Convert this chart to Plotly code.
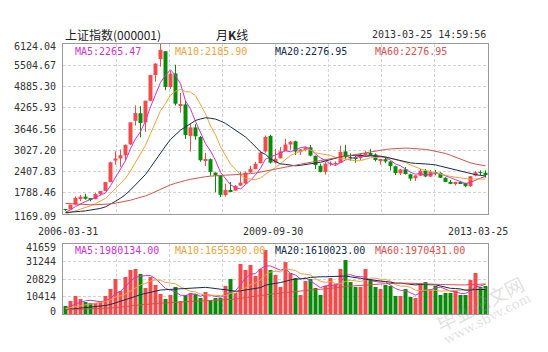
import numpy as np
import pandas as pd
import plotly.graph_objects as go

# ---------------- data ----------------
# monthly candles 2006-03 .. 2013-03 (Shanghai Composite)
open_ = [1299, 1300, 1445, 1635, 1676, 1612, 1602, 1754, 1840, 2101,
         2728, 2787, 2882, 3196, 3884, 4106, 3841, 4468, 5219, 5683, 5914, 4868,
         5265, 4320, 4364, 3446, 3693, 3415, 2742, 2767, 2376, 2294, 1719, 1870,
         1850, 1998, 2058, 2381, 2476, 2652, 2990, 3446, 2670, 2791, 3005, 3193,
         3289, 2983, 3057, 3112, 2866, 2577, 2395, 2628, 2631, 2661, 2993, 2818,
         2825, 2795, 2904, 2935, 2904, 2740, 2767, 2699, 2561, 2355, 2473, 2327,
         2212, 2285, 2430, 2259, 2391, 2370, 2226, 2106, 2049, 2074, 2073, 1979,
         2289, 2382, 2371]
high = [1307, 1445, 1680, 1725, 1757, 1627, 1785, 1843, 2099, 2698,
        2994, 3049, 3197, 3841, 4335, 4312, 4471, 5219, 5562, 6124, 5914, 5335,
        5522, 4695, 4472, 3786, 3786, 3442, 2952, 2790, 2380, 2296, 2050, 2100,
        2012, 2402, 2403, 2579, 2688, 2993, 3454, 3478, 3068, 3123, 3361, 3298,
        3306, 3060, 3129, 3181, 2869, 2634, 2680, 2706, 2702, 3159, 3186, 2939,
        2868, 2943, 3000, 3067, 2935, 2775, 2826, 2709, 2575, 2480, 2536, 2342,
        2301, 2478, 2478, 2454, 2453, 2384, 2240, 2160, 2109, 2135, 2084, 2276,
        2414, 2444, 2440]
low = [1258, 1295, 1421, 1541, 1586, 1541, 1596, 1720, 1830, 2091,
       2605, 2541, 2723, 3175, 3747, 3404, 3563, 4463, 5029, 5462, 4778, 4812,
       4330, 4123, 3357, 2990, 3333, 2693, 2566, 2284, 1802, 1664, 1678, 1814,
       1845, 1990, 2037, 2362, 2473, 2640, 2955, 2639, 2639, 2789, 3000, 3039,
       2890, 2890, 2995, 2852, 2481, 2382, 2319, 2571, 2573, 2661, 2774, 2721,
       2661, 2743, 2867, 2868, 2700, 2610, 2652, 2437, 2307, 2307, 2319, 2134,
       2132, 2276, 2242, 2244, 2297, 2224, 2100, 2043, 1999, 2043, 1949, 1959,
       2264, 2297, 2229]
close = [1298.3, 1440.2, 1641.3, 1672.2, 1612.7, 1601.1, 1752.4, 1837.9, 2099.3, 2675.5,
         2786.3, 2881.1, 3183.9, 3841.3, 4109.7, 3820.7, 4471.0, 5218.8, 5552.3, 5954.8, 4871.8, 5261.6,
         4383.4, 4348.5, 3472.7, 3693.1, 3433.4, 2736.1, 2775.7, 2397.4, 2293.8, 1728.8, 1871.2, 1820.8,
         1991.0, 2082.9, 2373.2, 2477.6, 2632.9, 2959.4, 3412.1, 2667.7, 2779.4, 2995.8, 3195.3, 3277.1,
         2989.3, 3051.9, 3109.1, 2870.6, 2592.1, 2398.4, 2637.5, 2638.8, 2655.7, 2978.8, 2820.2, 2808.1,
         2790.7, 2905.1, 2928.1, 2911.5, 2743.5, 2762.1, 2701.7, 2567.3, 2359.2, 2468.3, 2333.4, 2199.4,
         2292.6, 2428.5, 2262.8, 2396.3, 2372.2, 2225.4, 2103.6, 2047.5, 2086.2, 2068.9, 1980.1, 2269.1,
         2385.4, 2365.6, 2328.0]
volume = [4800, 7700, 10700, 8900, 7100, 6500, 6500, 7700, 10700, 14900,
          20800, 13700, 22000, 26200, 26800, 23800, 15500, 22000, 17300, 11900, 8900, 11300,
          16100, 7700, 11300, 12500, 11900, 9500, 13100, 8300, 9500, 9500, 16700, 20800,
          12500, 29800, 26200, 29200, 22600, 26800, 38100, 26200, 23200, 16100, 30900, 24400,
          21400, 11300, 19600, 20800, 15500, 11300, 16700, 21400, 17900, 26800, 32100, 19000,
          16100, 16100, 26800, 20800, 16100, 14900, 17300, 16700, 10700, 10700, 14900, 10100,
          9500, 17900, 19000, 14900, 16700, 11300, 12500, 12500, 13700, 11300, 11300, 20200,
          24400, 16100, 16700]
# earlier months (2001-04 .. 2006-02), only used to start the moving averages
hist_close = [2119, 2214, 2218, 1920, 1834, 1690, 1689, 1747, 1646,
              1491, 1524, 1603, 1661, 1516, 1732, 1666, 1670, 1581, 1507, 1441, 1357,
              1500, 1511, 1510, 1521, 1576, 1487, 1476, 1421, 1367, 1348, 1397, 1497,
              1590, 1675, 1741, 1595, 1555, 1399, 1386, 1342, 1396, 1320, 1340, 1266,
              1191, 1306, 1181, 1159, 1060, 1080, 1083, 1162, 1155, 1092, 1099, 1161,
              1258, 1299]
hist_volume = [3600, 3200, 3300, 2600, 2100, 1700, 2200, 2600, 1600,
               1700, 1200, 2600, 3200, 2100, 4600, 2700, 2300, 1500, 1400, 1600, 1500,
               2600, 1700, 2100, 3200, 3500, 2000, 2100, 1800, 1600, 1800, 2200, 2600,
               3600, 5200, 6200, 4600, 2300, 2000, 1800, 1600, 2800, 1900, 2500, 1600,
               1700, 2000, 2200, 2100, 1800, 3200, 2400, 3700, 2900, 2100, 2500, 2900,
               3300, 3600]

price_ticks = [1169.09, 1788.46, 2407.83, 3027.20, 3646.56, 4265.93, 4885.30, 5504.67, 6124.04]
vol_ticks = [0, 10414, 20829, 31244, 41659]
date_labels = ["2006-03-31", "2009-09-30", "2013-03-25"]
date_pos = [0, 42, 84]
price_ma_text = ["MA5:2265.47", "MA10:2185.90", "MA20:2276.95", "MA60:2276.95"]
vol_ma_text = ["MA5:1980134.00", "MA10:1655390.00", "MA20:1610023.00", "MA60:1970431.00"]
ma_periods = [5, 10, 20, 60]

# ---------------- style ----------------
W, H = 548, 352
X0, X1 = 63, 488
P_TOP, P_BOT = 44, 214
V_TOP, V_BOT = 244, 314
RED = "#f04c4c"
GREEN = "#0a8a0a"
MA_COLORS = ["#cc33cc", "#eaa43a", "#132c4c", "#d85050"]
MONO = "DejaVu Sans Mono"
CJK = "Noto Sans CJK SC"
TXT = "#333333"

n = len(close)
idx = list(range(n))
o = np.array(open_, float); c = np.array(close, float)
hi = np.array(high, float); lo = np.array(low, float)
up = c >= o

def px(xp):
    return xp / W

def py(yp):
    return 1 - yp / H

fig = go.Figure()

# candle bodies and wicks
for mask, col in [(up, RED), (~up, GREEN)]:
    ii = [i for i in idx if mask[i]]
    fig.add_trace(go.Bar(x=ii, y=[abs(c[i] - o[i]) for i in ii],
                         base=[min(c[i], o[i]) for i in ii], width=0.8,
                         marker=dict(color=col, line=dict(width=0)),
                         xaxis="x", yaxis="y", hoverinfo="skip"))
    wx, wy = [], []
    for i in ii:
        wx += [i, i, None]
        wy += [lo[i], hi[i], None]
    fig.add_trace(go.Scatter(x=wx, y=wy, mode="lines", line=dict(color=col, width=1),
                             xaxis="x", yaxis="y", hoverinfo="skip"))

# price MAs
all_close = pd.Series(hist_close + close)
all_vol = pd.Series(hist_volume + volume)
for p, col in zip(ma_periods, MA_COLORS):
    ma = all_close.rolling(p, min_periods=1).mean().iloc[-n:].values
    fig.add_trace(go.Scatter(x=idx, y=ma, mode="lines", line=dict(color=col, width=1),
                             xaxis="x", yaxis="y", hoverinfo="skip"))

# volume bars
fig.add_trace(go.Bar(x=idx, y=volume, width=0.8,
                     marker=dict(color=[RED if u else GREEN for u in up], line=dict(width=0)),
                     xaxis="x2", yaxis="y2", hoverinfo="skip"))
for p, col in zip(ma_periods, MA_COLORS):
    ma = all_vol.rolling(p, min_periods=1).mean().iloc[-n:].values
    fig.add_trace(go.Scatter(x=idx, y=ma, mode="lines", line=dict(color=col, width=1),
                             xaxis="x2", yaxis="y2", hoverinfo="skip"))

grid_x = [-0.5 + n / 8 * k for k in range(1, 8)]
axis_common = dict(showline=True, mirror=True, linecolor="#9a9a9a", linewidth=1,
                   showgrid=True, gridcolor="#d4d4d4", griddash="3px,2px", gridwidth=1,
                   zeroline=False, showticklabels=False, ticks="", fixedrange=True)
fig.update_layout(
    width=W, height=H, margin=dict(l=0, r=0, t=0, b=0),
    paper_bgcolor="white", plot_bgcolor="white", showlegend=False,
    barmode="overlay",
    xaxis=dict(domain=[px(X0), px(X1)], range=[-0.5, n - 0.5], tickvals=grid_x,
               anchor="y", **axis_common),
    xaxis2=dict(domain=[px(X0), px(X1)], range=[-0.5, n - 0.5], tickvals=grid_x,
                anchor="y2", matches="x", **axis_common),
    yaxis=dict(domain=[py(P_BOT), py(P_TOP)], range=[price_ticks[0], price_ticks[-1]],
               tickvals=price_ticks, anchor="x", **axis_common),
    yaxis2=dict(domain=[py(V_BOT), py(V_TOP)], range=[vol_ticks[0], vol_ticks[-1]],
                tickvals=vol_ticks, anchor="x2", **axis_common),
)

ann = []
def text(x, y, s, color=TXT, size=10, family=MONO, xanchor="left", **kw):
    d = dict(x=x, y=y, text=s, showarrow=False, xanchor=xanchor, yanchor="middle",
             xref="paper", yref="paper",
             font=dict(family=family, size=size, color=color))
    d.update(kw)
    ann.append(d)

# header
text(px(63), py(35), "上证指数(000001)", size=12, family=CJK, color="#222222")
text(px(232), py(35), "月<b>K</b>线", size=12, family=CJK, color="#222222", xanchor="center")
text(px(488), py(35), "2013-03-25 14:59:56", xanchor="right")

# MA legends
for k, (s1, s2, col) in enumerate(zip(price_ma_text, vol_ma_text, MA_COLORS)):
    text(px(73 + 100 * k), py(51), s1, color=col)
    text(px(73 + 100 * k), py(251), s2, color=col)

# price axis labels
for j, v in enumerate(price_ticks):
    shift = -2 if j in (0, len(price_ticks) - 1) else 0
    text(px(58), v, f"{v:.2f}", xanchor="right", yref="y", yshift=shift)
# volume axis labels
for j, v in enumerate(vol_ticks):
    shift = 3 if j == 0 else (-3 if j == len(vol_ticks) - 1 else 0)
    text(px(58), v, f"{v}", xanchor="right", yref="y2", yshift=shift)

# date labels (centred under their month slot)
slot = (X1 - X0) / n
for lab, pos in zip(date_labels, date_pos):
    xs = -8 if pos == n - 1 else (2 if pos == 0 else -3)
    text(px(X0 + (pos + 0.5) * slot + xs), py(231), lab, xanchor="center")

# watermark
text(px(479), py(303), "毕业论文网", size=19, family=CJK, color="rgba(150,150,150,0.30)",
     xanchor="center", textangle=-27)
text(px(487), py(318), "www.sbvv.com", size=13, family="DejaVu Serif",
     color="rgba(150,150,150,0.30)", xanchor="center", textangle=-27)

fig.update_layout(annotations=ann)
fig.write_html("out.html")
